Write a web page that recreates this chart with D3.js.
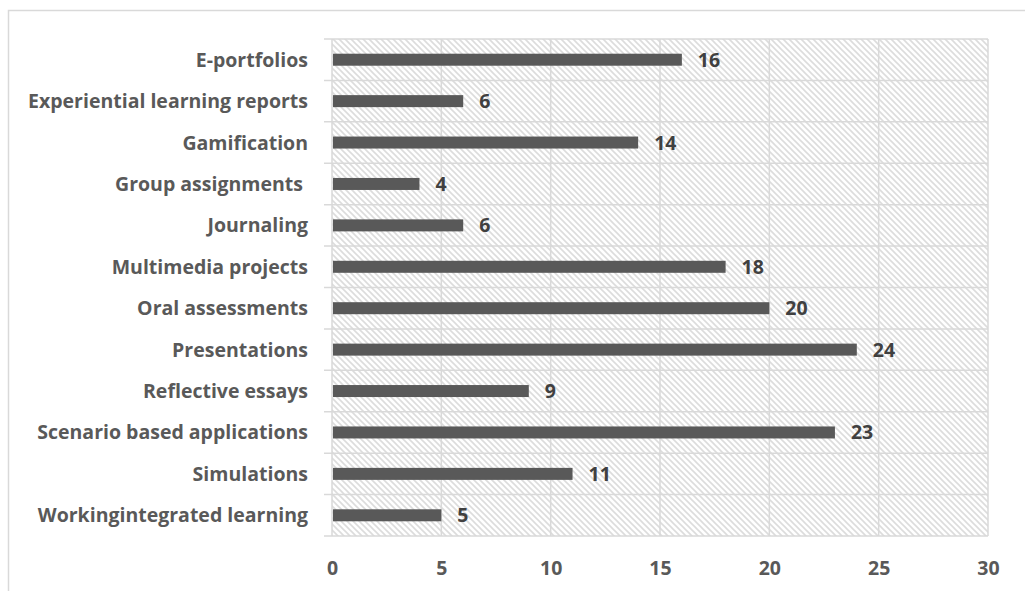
<!DOCTYPE html>
<html>
<head>
<meta charset="utf-8">
<script src="https://cdn.jsdelivr.net/npm/d3@7"></script>
<style>
  html, body { margin: 0; padding: 0; background: #fff; }
  svg { display: block; }
  text { font-family: "Open Sans", "Liberation Sans", sans-serif; font-weight: bold; }
  .cat-label { white-space: pre; }
</style>
</head>
<body>
<svg id="chart" width="1025" height="591"></svg>
<script>
// Assessment methods and how often each was reported
const categories = [
  "E-portfolios",
  "Experiential learning reports",
  "Gamification",
  "Group assignments ",
  "Journaling",
  "Multimedia projects",
  "Oral assessments",
  "Presentations",
  "Reflective essays",
  "Scenario based applications",
  "Simulations",
  "Workingintegrated learning"
];
const counts = [16, 6, 14, 4, 6, 18, 20, 24, 9, 23, 11, 5];
const xTicks = [0, 5, 10, 15, 20, 25, 30];

const svg = d3.select("#chart");
const W = 1025, H = 591;
const plot = { left: 332, right: 988, top: 39, bottom: 536 };
const fontSize = 19.5;

// Chart frame (continues past the right and bottom edges)
svg.append("rect")
  .attr("x", 8.5).attr("y", 10.5)
  .attr("width", W + 20).attr("height", H + 20)
  .attr("fill", "#fff")
  .attr("stroke", "#d9d9d9").attr("stroke-width", 1.5);

// Fine downward diagonal hatch for the plot background
const defs = svg.append("defs");
const pat = defs.append("pattern")
  .attr("id", "hatch")
  .attr("patternUnits", "userSpaceOnUse")
  .attr("width", 6).attr("height", 6);
pat.append("rect").attr("width", 6).attr("height", 6).attr("fill", "#fff");
pat.append("path")
  .attr("d", "M-2,-2 L8,8 M-2,4 L2,8 M4,-2 L8,2")
  .attr("stroke", "#dcdcdc").attr("stroke-width", 1.6)
  .attr("fill", "none");

const x = d3.scaleLinear().domain([0, 30]).range([plot.left, plot.right]);
const y = d3.scaleBand().domain(categories).range([plot.top, plot.bottom]).paddingInner(0).paddingOuter(0);

svg.append("rect")
  .attr("x", plot.left).attr("y", plot.top)
  .attr("width", plot.right - plot.left).attr("height", plot.bottom - plot.top)
  .attr("fill", "url(#hatch)");

// Vertical gridlines at each tick
svg.append("g")
  .selectAll("line")
  .data(xTicks)
  .join("line")
  .attr("x1", d => x(d)).attr("x2", d => x(d))
  .attr("y1", plot.top).attr("y2", plot.bottom)
  .attr("stroke", "#d9d9d9").attr("stroke-width", 1.5);

// Horizontal category boundaries, with short ticks left of the axis
const bounds = categories.map(c => y(c)).concat([plot.bottom]);
svg.append("g")
  .selectAll("line")
  .data(bounds)
  .join("line")
  .attr("x1", plot.left - 8).attr("x2", plot.right)
  .attr("y1", d => d).attr("y2", d => d)
  .attr("stroke", "#d9d9d9").attr("stroke-width", 1.5);

// Bars
const barH = 12;
svg.append("g")
  .selectAll("rect")
  .data(categories)
  .join("rect")
  .attr("x", x(0) + 1)
  .attr("y", (c) => y(c) + y.bandwidth() / 2 - barH / 2)
  .attr("width", (c, i) => x(counts[i]) - x(0) - 1)
  .attr("height", barH)
  .attr("fill", "#595959");

// Value labels
svg.append("g")
  .selectAll("text")
  .data(categories)
  .join("text")
  .attr("x", (c, i) => x(counts[i]) + 16)
  .attr("y", c => y(c) + y.bandwidth() / 2)
  .attr("dy", "0.36em")
  .attr("font-size", fontSize)
  .attr("fill", "#404040")
  .text((c, i) => counts[i]);

// Category labels (trailing spaces kept)
svg.append("g")
  .selectAll("text")
  .data(categories)
  .join("text")
  .attr("class", "cat-label")
  .attr("xml:space", "preserve")
  .attr("x", 308)
  .attr("y", c => y(c) + y.bandwidth() / 2)
  .attr("dy", "0.36em")
  .attr("text-anchor", "end")
  .attr("font-size", fontSize)
  .attr("fill", "#595959")
  .text(c => c);

// X axis tick labels
const xAxis = d3.axisBottom(x).tickValues(xTicks).tickSize(0).tickPadding(0);
const gx = svg.append("g").attr("transform", `translate(0, ${plot.bottom})`).call(xAxis);
gx.select(".domain").remove();
gx.selectAll("text")
  .attr("y", 39)
  .attr("dy", 0)
  .attr("font-size", fontSize)
  .attr("fill", "#595959")
  .style("font-family", "'Open Sans', 'Liberation Sans', sans-serif")
  .style("font-weight", "bold");
</script>
</body>
</html>
